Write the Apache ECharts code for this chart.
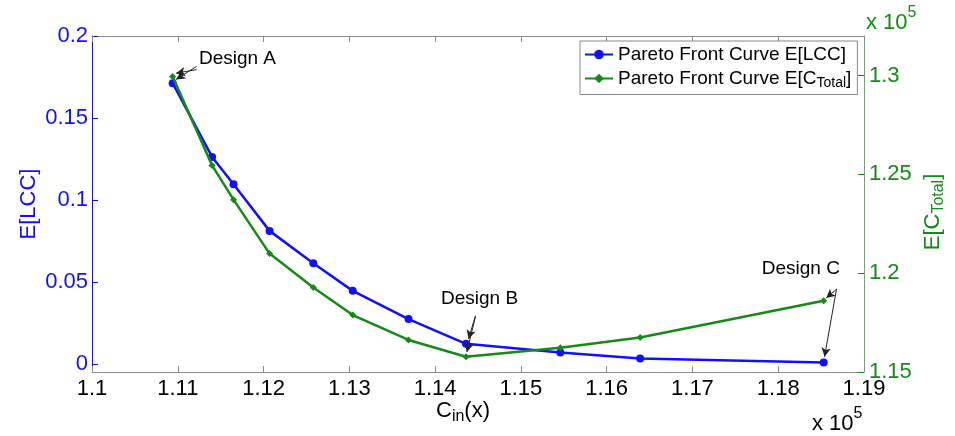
<!DOCTYPE html>
<html>
<head>
<meta charset="utf-8">
<script src="https://cdn.jsdelivr.net/npm/echarts@6/dist/echarts.min.js"></script>
<style>html,body{margin:0;padding:0;background:#fff;}#c{width:955px;height:436px;}</style>
</head>
<body>
<div id="c"></div>
<script>
// Data (x in units of 1e5, E[C_Total] in units of 1e5)
const xVals = [1.1094, 1.1140, 1.1165, 1.1207, 1.1258, 1.1304, 1.1369, 1.1436, 1.1546, 1.1639, 1.1853];
const lccVals = [0.1712, 0.1262, 0.1096, 0.0811, 0.0614, 0.0445, 0.0273, 0.0122, 0.0069, 0.0032, 0.0008];
const ctotalVals = [1.2995, 1.2545, 1.2372, 1.2099, 1.1928, 1.1788, 1.1662, 1.1577, 1.1623, 1.1675, 1.1860];
const xTicks = [1.1, 1.11, 1.12, 1.13, 1.14, 1.15, 1.16, 1.17, 1.18, 1.19];
const lccTicks = [0, 0.05, 0.1, 0.15, 0.2];
const ctotalTicks = [1.15, 1.2, 1.25, 1.3];
const seriesNames = ['Pareto Front Curve E[LCC]', 'Pareto Front Curve E[C_Total]'];
// Annotations: [label, labelX, labelY(left axis)]
const designLabels = [['Design A', 1.11696, 0.186], ['Design B', 1.14518, 0.0396], ['Design C', 1.18264, 0.0579]];
// Arrows: start -> end, in data coords (blue arrows on left axis, green arrows on right axis)
const blueArrows = [[[1.1122, 0.1815], [1.1098, 0.1735]], [[1.1447, 0.0293], [1.1439, 0.0152]], [[1.1868, 0.0457], [1.1854, 0.0043]]];
const greenArrows = [[[1.1122, 1.3030], [1.1098, 1.3012]], [[1.1447, 1.1780], [1.1437, 1.1601]], [[1.1868, 1.1919], [1.1856, 1.1874]]];

const FONT = 'Liberation Sans, Arial, sans-serif';
const BLUE = '#1010ff';
const GREEN = '#158a15';
const chart = echarts.init(document.getElementById('c'), null, {renderer: 'canvas'});

const option = {
  backgroundColor: '#fff',
  animation: false,
  textStyle: {fontFamily: FONT},
  grid: {left: 92, right: 88, top: 36, bottom: 64},
  legend: {
    orient: 'vertical', left: 580, top: 41,
    padding: [4, 6, 4, 4],
    itemWidth: 28, itemHeight: 12, itemGap: 5,
    borderColor: '#888', borderWidth: 1, backgroundColor: '#fff',
    data: seriesNames,
    formatter: function (n) {
      if (n.indexOf('_Total') >= 0) return '{n|Pareto Front Curve E[C}{s|Total}{n|]}';
      return '{n|' + n + '}';
    },
    textStyle: {
      fontFamily: FONT, color: '#000',
      rich: {
        n: {fontSize: 19, fontFamily: FONT, color: '#000'},
        s: {fontSize: 14, fontFamily: FONT, color: '#000', padding: [10, 0, 0, 0]}
      }
    }
  },
  xAxis: [{
    type: 'value', min: 1.1, max: 1.19,
    name: '{n|C}{s|in}{n|(x)}', nameLocation: 'middle', nameGap: 25, nameMoveOverlap: false,
    nameTextStyle: {
      padding: [0, 30, 0, 0],
      rich: {
        n: {fontSize: 22, fontFamily: FONT, color: '#000'},
        s: {fontSize: 16, fontFamily: FONT, color: '#000', padding: [12, 0, 0, 0]}
      }
    },
    axisLine: {onZero: false, lineStyle: {color: '#8a8a8a', width: 1}},
    axisTick: {inside: true, length: 6, customValues: xTicks, lineStyle: {color: '#8a8a8a'}},
    axisLabel: {customValues: xTicks, fontSize: 22, color: '#000', fontFamily: FONT, margin: 6,
      formatter: v => String(+v.toFixed(2))},
    splitLine: {show: false}
  }, {
    type: 'value', min: 1.1, max: 1.19, position: 'top',
    axisLine: {onZero: false, lineStyle: {color: '#8a8a8a', width: 1}},
    axisTick: {inside: true, length: 6, customValues: xTicks, lineStyle: {color: '#8a8a8a'}},
    axisLabel: {show: false},
    splitLine: {show: false}
  }],
  yAxis: [{
    type: 'value', min: -0.005, max: 0.2, position: 'left',
    name: 'E[LCC]', nameLocation: 'middle', nameGap: 52, nameRotate: 90, nameMoveOverlap: false,
    nameTextStyle: {fontSize: 22, color: BLUE, fontFamily: FONT},
    axisLine: {onZero: false, lineStyle: {color: BLUE, width: 1}},
    axisTick: {inside: true, length: 6, customValues: lccTicks, lineStyle: {color: BLUE}},
    axisLabel: {customValues: lccTicks, fontSize: 22, color: BLUE, fontFamily: FONT, margin: 4,
      formatter: v => String(+v.toFixed(3))},
    splitLine: {show: false}
  }, {
    type: 'value', min: 1.15, max: 1.32, position: 'right',
    name: '{n|E[C}{s|Total}{n|]}', nameLocation: 'middle', nameGap: 55, nameRotate: 90, nameMoveOverlap: false,
    nameTextStyle: {
      padding: [0, 16, 0, 0],
      rich: {
        n: {fontSize: 22, fontFamily: FONT, color: GREEN},
        s: {fontSize: 16, fontFamily: FONT, color: GREEN, padding: [12, 0, 0, 0]}
      }
    },
    axisLine: {onZero: false, lineStyle: {color: '#7f9f7f', width: 1}},
    axisTick: {inside: true, length: 6, customValues: ctotalTicks, lineStyle: {color: GREEN}},
    axisLabel: {customValues: ctotalTicks, fontSize: 22, color: GREEN, fontFamily: FONT, margin: 5,
      formatter: v => String(+v.toFixed(3))},
    splitLine: {show: false}
  }],
  series: [{
    name: seriesNames[0], type: 'line', xAxisIndex: 0, yAxisIndex: 0,
    data: xVals.map((x, i) => [x, lccVals[i]]),
    symbol: 'circle', symbolSize: 8, showAllSymbol: true,
    lineStyle: {color: BLUE, width: 2.5}, itemStyle: {color: BLUE},
    z: 3,
    markPoint: {
      symbol: 'circle', symbolSize: 1, silent: true,
      itemStyle: {color: 'rgba(0,0,0,0)'},
      label: {show: true, position: 'inside', color: '#000', fontSize: 19, fontFamily: FONT,
        formatter: p => p.name},
      data: designLabels.map(d => ({name: d[0], coord: [d[1], d[2]]}))
    },
    markLine: {
      silent: true, symbol: ['none', 'arrow'], symbolSize: [7, 9],
      label: {show: false},
      lineStyle: {color: '#222', width: 1, type: 'solid'},
      data: blueArrows.map(a => [{coord: a[0]}, {coord: a[1]}])
    }
  }, {
    name: seriesNames[1], type: 'line', xAxisIndex: 0, yAxisIndex: 1,
    data: xVals.map((x, i) => [x, ctotalVals[i]]),
    symbol: 'diamond', symbolSize: 7, showAllSymbol: true,
    lineStyle: {color: GREEN, width: 2.5}, itemStyle: {color: GREEN},
    z: 4,
    markLine: {
      silent: true, symbol: ['none', 'arrow'], symbolSize: [7, 9],
      label: {show: false},
      lineStyle: {color: '#222', width: 1, type: 'solid'},
      data: greenArrows.map(a => [{coord: a[0]}, {coord: a[1]}])
    }
  }],
  graphic: [{
    type: 'text', left: 812, top: 406,
    style: {
      text: '{n|x 10}{p|5}', fontFamily: FONT,
      rich: {n: {fontSize: 22, fontFamily: FONT, fill: '#000', padding: [8, 0, 0, 0]},
             p: {fontSize: 16, fontFamily: FONT, fill: '#000', padding: [0, 0, 12, 0]}}
    }
  }, {
    type: 'text', left: 866, top: 5,
    style: {
      text: '{n|x 10}{p|5}', fontFamily: FONT,
      rich: {n: {fontSize: 22, fontFamily: FONT, fill: GREEN, padding: [8, 0, 0, 0]},
             p: {fontSize: 16, fontFamily: FONT, fill: GREEN, padding: [0, 0, 12, 0]}}
    }
  }]
};
chart.setOption(option);
</script>
</body>
</html>
